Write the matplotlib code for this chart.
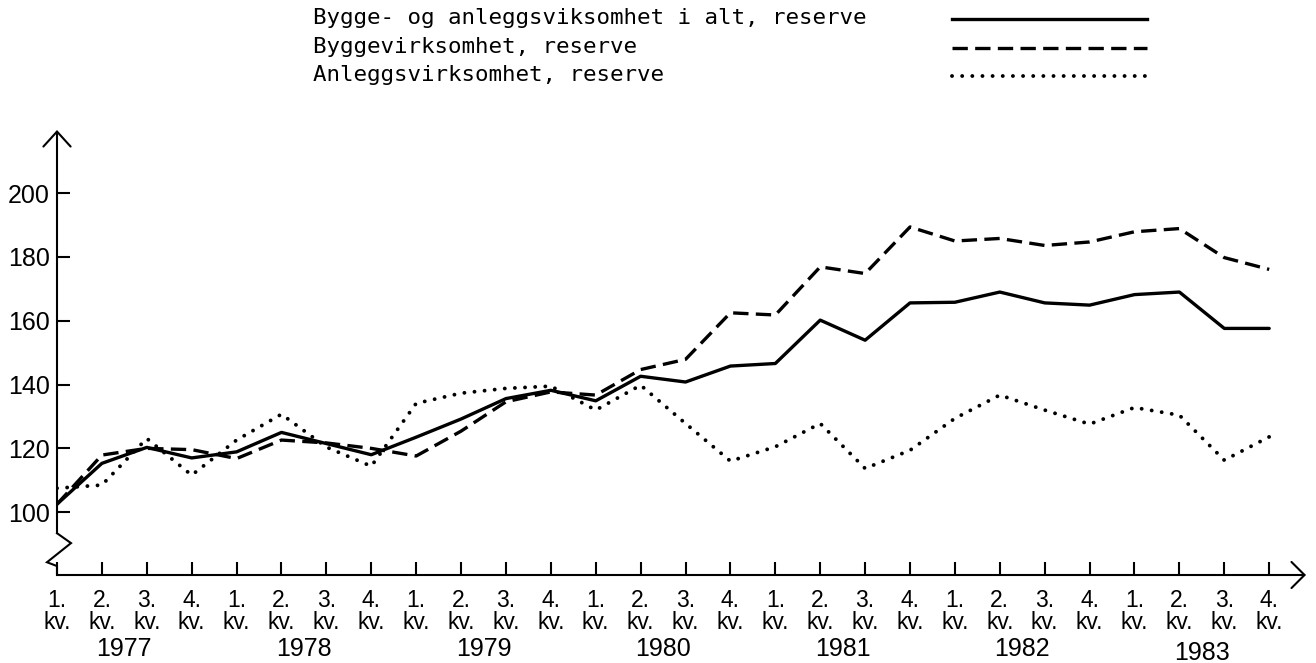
import matplotlib
matplotlib.use('Agg')
import matplotlib.pyplot as plt
import matplotlib.transforms as mtransforms
from matplotlib.lines import Line2D

# ---------------- data ----------------
quarter_labels = ['1.', '2.', '3.', '4.'] * 7
years = ['1977', '1978', '1979', '1980', '1981', '1982', '1983']

series_names = ['Bygge- og anleggsviksomhet i alt, reserve',
                'Byggevirksomhet, reserve',
                'Anleggsvirksomhet, reserve']

total = [102.5, 115.3, 120.3, 117.0, 118.9, 125.0, 121.5, 118.0, 123.5, 129.2,
         135.6, 138.2, 134.9, 142.6, 140.8, 145.8, 146.6, 160.2, 153.9, 165.6,
         165.8, 169.0, 165.6, 164.9, 168.2, 169.0, 157.6, 157.6]
building = [102.5, 117.9, 120.0, 119.6, 116.8, 122.6, 121.7, 120.0, 117.6, 125.4,
            134.6, 137.7, 136.7, 144.7, 147.9, 162.5, 161.8, 176.9, 174.8, 189.4,
            185.0, 185.8, 183.6, 184.7, 187.9, 188.9, 179.8, 176.1]
construction = [107.5, 108.5, 123.1, 111.6, 122.6, 130.7, 120.4, 114.4, 134.1, 137.3,
                138.8, 139.5, 132.0, 139.8, 127.8, 116.0, 120.5, 127.8, 113.7, 119.4,
                129.4, 136.7, 132.0, 127.6, 132.8, 130.4, 116.3, 123.6]

y_ticks = [100, 120, 140, 160, 180, 200]

# ---------------- styles ----------------
LABEL_FONT = ['Liberation Sans Narrow', 'Liberation Sans', 'DejaVu Sans']
MONO_FONT = ['DejaVu Sans Mono']
styles = [dict(linestyle='-', lw=2.4),
          dict(linestyle=(0, (4.6, 2.2)), lw=2.4),
          dict(linestyle=(0, (0.01, 2.6)), lw=2.8, dash_capstyle='round')]

W, H = 1316, 663
fig = plt.figure(figsize=(W / 100, H / 100), dpi=100)
x0, x1, ybot, ytop = 57, 1306, 575, 130
ax = fig.add_axes([x0 / W, (H - ybot) / H, (x1 - x0) / W, (ybot - ytop) / H])
ax.set_facecolor('white')

xs = list(range(len(total)))
for vals, st in zip([total, building, construction], styles):
    ax.plot(xs, vals, color='black', solid_capstyle='round', **st)

ax.set_xlim(0, 27.82)
ax.set_ylim(80.3, 219.8)
for s in ax.spines.values():
    s.set_visible(False)

# ticks
ax.set_yticks(y_ticks)
ax.set_yticklabels([str(v) for v in y_ticks], fontsize=18, family=LABEL_FONT)
ax.set_xticks(xs)
ax.set_xticklabels([q + '\nkv.' for q in quarter_labels], fontsize=16.5,
                   family=LABEL_FONT)
for lbl in ax.get_xticklabels():
    lbl.set_linespacing(0.95)
ax.tick_params(axis='both', direction='in', length=9.5, width=1.5, color='black')
ax.tick_params(axis='y', pad=5)
ax.tick_params(axis='x', pad=10)

# year labels
tr = mtransforms.blended_transform_factory(ax.transData, ax.transAxes)
for k, yr in enumerate(years):
    yoff = -0.166 if k < 6 else -0.175
    ax.text(4 * k + 1.5, yoff, yr, transform=tr, ha='center', va='center',
            fontsize=18, family=LABEL_FONT)

# axes lines with arrows
tr_y = mtransforms.blended_transform_factory(ax.transAxes, ax.transData)
px = 1.0 / (x1 - x0)
brk_top, brk_a, brk_b, brk_bot = 93.4, 90.3, 84.3, 83.1
ax.plot([0, 14 * px, -10 * px, 0, 0], [brk_top, brk_a, brk_b, brk_bot, 80.3],
        transform=tr_y, color='black', lw=1.5, clip_on=False,
        solid_joinstyle='miter')
ax.annotate('', xy=(0, 1), xycoords='axes fraction',
            xytext=(0, brk_top), textcoords=tr_y,
            arrowprops=dict(arrowstyle='->,head_length=0.54,head_width=0.49',
                            lw=1.5, color='black', shrinkA=0, shrinkB=0,
                            mutation_scale=20))
ax.annotate('', xy=(1, 0), xycoords='axes fraction',
            xytext=(0, 0), textcoords='axes fraction',
            arrowprops=dict(arrowstyle='->,head_length=0.47,head_width=0.47',
                            lw=1.5, color='black', shrinkA=0, shrinkB=0,
                            mutation_scale=20))

# legend (text left, sample line right)
leg_y = [18, 47, 75]
for name, st, yy in zip(series_names, styles, leg_y):
    fig.text(313 / W, 1 - yy / H, name, ha='left', va='center',
             fontsize=16.2, family=MONO_FONT)
    fig.add_artist(Line2D([952 / W, 1147 / W], [1 - (yy + 1) / H] * 2,
                          transform=fig.transFigure, color='black', **st))

fig.savefig('out.png', dpi=100, facecolor='white')
